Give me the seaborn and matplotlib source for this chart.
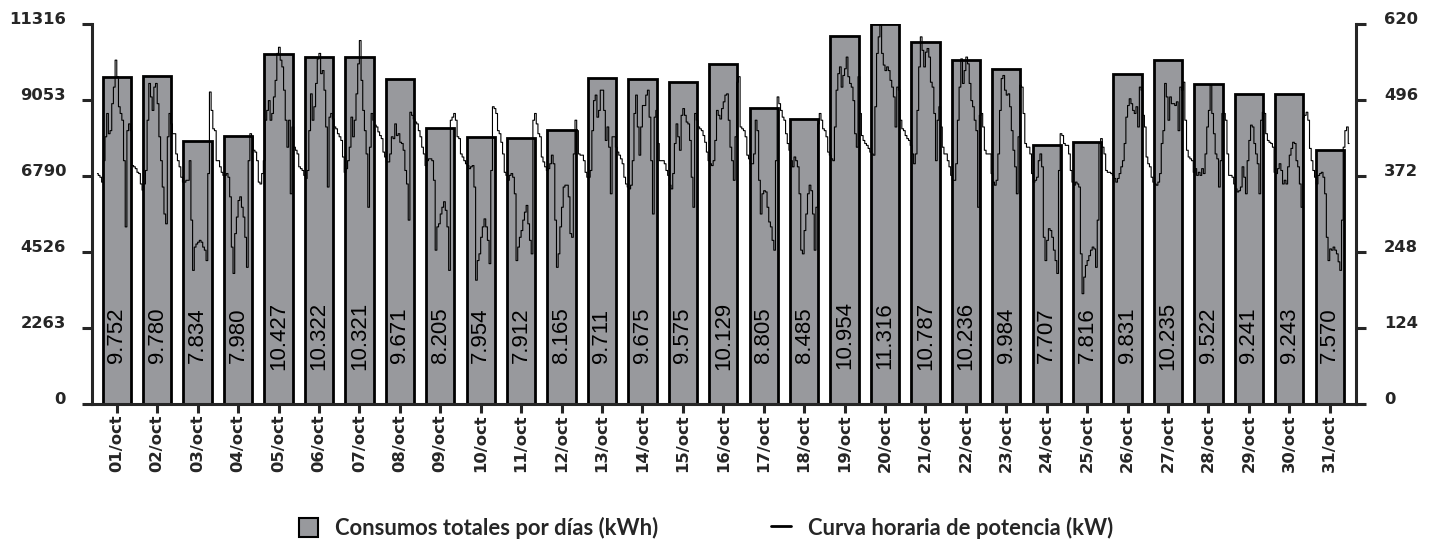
import numpy as np
import pandas as pd
import seaborn as sns
import matplotlib.pyplot as plt
from matplotlib.patches import Patch
from matplotlib.lines import Line2D

# dias del mes y consumo total diario (kWh)
dias = ['%02d/oct' % d for d in range(1, 32)]
consumos = [9752, 9780, 7834, 7980, 10427, 10322, 10321, 9671, 8205, 7954,
            7912, 8165, 9711, 9675, 9575, 10129, 8805, 8485, 10954, 11316,
            10787, 10236, 9984, 7707, 7816, 9831, 10235, 9522, 9241, 9243, 7570]

# curva horaria de potencia (kW), 24 valores por dia
curva_kw = [
    376, 373, 370, 362, 397, 436, 474, 441, 446, 490, 517, 561, 534, 485, 474, 463, 397, 289, 446, 457, 446, 389, 387, 384,  # 01
    378, 376, 359, 349, 359, 381, 463, 523, 501, 479, 517, 523, 490, 436, 397, 354, 310, 294, 436, 474, 457, 441, 441, 408,  # 02
    397, 387, 370, 362, 362, 365, 365, 397, 300, 218, 256, 261, 264, 267, 264, 256, 251, 234, 376, 509, 479, 449, 446, 397,  # 03
    397, 387, 378, 373, 373, 376, 370, 338, 256, 213, 278, 305, 332, 338, 321, 305, 272, 223, 397, 441, 436, 414, 411, 397,  # 04
    362, 359, 376, 397, 463, 479, 495, 463, 474, 501, 528, 572, 582, 561, 550, 512, 463, 419, 463, 343, 452, 419, 414, 408,  # 05
    387, 384, 381, 373, 368, 381, 446, 506, 463, 485, 523, 563, 572, 539, 544, 512, 452, 354, 468, 474, 465, 452, 449, 441,  # 06
    436, 430, 403, 378, 384, 397, 419, 468, 436, 463, 506, 555, 593, 528, 479, 446, 408, 321, 419, 474, 463, 455, 452, 444,  # 07
    438, 433, 411, 403, 395, 395, 408, 436, 433, 457, 438, 441, 427, 425, 414, 381, 359, 300, 476, 471, 465, 460, 457, 446,  # 08
    436, 419, 408, 389, 397, 400, 400, 397, 365, 251, 289, 294, 310, 321, 330, 316, 289, 218, 463, 468, 474, 463, 436, 433,  # 09
    408, 403, 397, 392, 389, 384, 387, 389, 354, 202, 234, 245, 272, 289, 302, 289, 267, 229, 381, 485, 482, 474, 446, 441,  # 10
    427, 408, 378, 373, 365, 373, 376, 370, 343, 234, 256, 272, 283, 300, 313, 324, 294, 267, 245, 463, 474, 457, 441, 436,  # 11
    403, 395, 387, 381, 384, 392, 406, 392, 300, 223, 245, 289, 321, 354, 357, 357, 338, 278, 272, 408, 463, 446, 408, 406,  # 12
    406, 397, 378, 370, 370, 381, 446, 495, 504, 468, 479, 512, 512, 479, 430, 452, 419, 343, 436, 436, 419, 411, 406, 400,  # 13
    392, 370, 359, 354, 351, 357, 397, 474, 504, 452, 406, 452, 487, 487, 504, 512, 468, 397, 310, 468, 479, 425, 397, 397,  # 14
    397, 392, 381, 373, 357, 351, 376, 425, 457, 436, 414, 471, 482, 471, 460, 457, 430, 370, 321, 474, 463, 452, 449, 446,  # 15
    438, 427, 411, 397, 392, 389, 397, 430, 479, 471, 465, 482, 493, 504, 506, 463, 419, 397, 365, 436, 525, 534, 452, 449,  # 16
    446, 436, 406, 400, 392, 392, 408, 463, 446, 365, 310, 343, 348, 346, 321, 297, 289, 267, 251, 397, 501, 490, 479, 468,  # 17
    463, 441, 425, 414, 397, 387, 403, 397, 387, 343, 251, 245, 283, 310, 343, 357, 348, 310, 251, 321, 457, 474, 463, 449,  # 18
    446, 436, 411, 406, 400, 397, 452, 512, 539, 550, 517, 536, 547, 566, 534, 523, 517, 495, 441, 419, 534, 474, 438, 430,  # 19
    425, 422, 417, 411, 408, 406, 485, 572, 599, 618, 572, 553, 544, 550, 544, 528, 517, 501, 452, 517, 512, 463, 449, 446,  # 20
    438, 433, 430, 422, 408, 392, 408, 479, 550, 599, 577, 550, 574, 580, 566, 525, 517, 474, 397, 463, 485, 452, 419, 408,  # 21
    408, 397, 387, 373, 365, 365, 392, 463, 517, 563, 523, 544, 566, 555, 523, 495, 485, 463, 446, 321, 471, 474, 452, 414,  # 22
    408, 408, 408, 376, 362, 357, 365, 408, 479, 531, 536, 512, 504, 506, 485, 446, 414, 387, 343, 436, 520, 517, 474, 425,  # 23
    419, 419, 408, 376, 362, 365, 370, 397, 408, 387, 272, 234, 267, 286, 283, 272, 251, 234, 213, 381, 441, 438, 425, 422,  # 24
    422, 408, 381, 362, 357, 362, 359, 354, 245, 180, 207, 226, 234, 242, 251, 256, 253, 223, 300, 425, 433, 419, 408, 381,  # 25
    378, 378, 376, 373, 368, 362, 368, 376, 387, 397, 425, 468, 487, 498, 490, 479, 474, 485, 452, 517, 512, 471, 452, 403,  # 26
    392, 387, 370, 362, 359, 357, 362, 376, 425, 446, 523, 501, 463, 501, 490, 490, 487, 493, 446, 517, 512, 525, 463, 414,  # 27
    403, 400, 397, 378, 384, 373, 378, 373, 384, 376, 408, 452, 479, 520, 474, 441, 408, 400, 354, 397, 474, 474, 463, 408,  # 28
    373, 373, 370, 359, 351, 346, 348, 354, 387, 370, 343, 397, 430, 455, 452, 425, 408, 392, 343, 463, 476, 474, 441, 430,  # 29
    427, 425, 419, 378, 376, 384, 392, 381, 359, 365, 359, 387, 406, 417, 427, 425, 397, 387, 359, 321, 468, 471, 476, 463,  # 30
    417, 397, 381, 370, 359, 373, 376, 378, 370, 343, 272, 234, 253, 251, 256, 251, 245, 232, 218, 300, 419, 446, 452, 425,  # 31
]

ticks_kwh = [0, 2263, 4526, 6790, 9053, 11316]
ticks_kw = [0, 124, 248, 372, 496, 620]

gris = '#98999d'

sns.set_style('white')
plt.rcParams['font.family'] = ['DejaVu Sans']

fig = plt.figure(figsize=(14.36, 5.42), dpi=100)
ax = fig.add_axes([92 / 1436, 1 - 404 / 542, 1264 / 1436, 380 / 542])

df = pd.DataFrame({'dia': dias, 'kwh': consumos})
sns.barplot(data=df, x='dia', y='kwh', color=gris, saturation=1, width=0.7,
            edgecolor='black', linewidth=2.0, ax=ax)

# etiquetas de valor dentro de las barras
for i, v in enumerate(consumos):
    ax.text(i, 2040, f'{v:,}'.replace(',', '.'), rotation=90, ha='center', va='center',
            fontsize=16, family='Liberation Sans', color='black')

ax2 = ax.twinx()
horas_x = (np.arange(len(curva_kw)) + 0.5) / 24 - 0.5
sns.lineplot(x=horas_x, y=curva_kw, ax=ax2, color='black', linewidth=0.8,
             drawstyle='steps-mid', estimator=None, sort=False)

ax.set_xlim(-0.613, 30.65)
ax.set_ylim(0, 11316)
ax2.set_ylim(0, 620)
ax.set_xlabel('')
ax.set_ylabel('')
ax2.set_ylabel('')

ax.set_yticks(ticks_kwh)
ax.set_yticklabels([str(t) for t in ticks_kwh])
ax2.set_yticks(ticks_kw)
ax2.set_yticklabels([str(t) for t in ticks_kw])
ax.set_xticks(range(len(dias)))
ax.set_xticklabels(dias, rotation=90)

lab_font = dict(family='DejaVu Sans', weight='bold', size=11.8)
for lab in ax.get_yticklabels() + ax2.get_yticklabels():
    lab.set_fontproperties(lab_font)
    lab.set_va('baseline')
for lab in ax.get_xticklabels():
    lab.set_fontproperties(lab_font)

ax.tick_params(axis='y', length=7.2, width=2.2, pad=11.5, left=True)
ax.tick_params(axis='x', length=6.5, width=2.2, pad=1, bottom=True)
ax2.tick_params(axis='y', length=7.2, width=2.2, pad=13, right=True)

for s in ['top', 'right']:
    ax.spines[s].set_visible(False)
for s in ['top', 'left', 'bottom']:
    ax2.spines[s].set_visible(False)
ax.spines['left'].set_linewidth(2.2)
ax.spines['bottom'].set_linewidth(2.2)
ax2.spines['right'].set_linewidth(2.2)

handles = [Patch(facecolor=gris, edgecolor='black', linewidth=1.5),
           Line2D([0], [0], color='black', linewidth=2)]
fig.legend(handles, ['Consumos totales por días (kWh)', 'Curva horaria de potencia (kW)'],
           loc='center', bbox_to_anchor=(0.4916, 0.026), ncol=2, frameon=False,
           prop=dict(family='Lato', weight='bold', size=15.8),
           handlelength=0.87, handleheight=1.0, handletextpad=0.78, columnspacing=5.15)

fig.savefig('out.png', dpi=100)
